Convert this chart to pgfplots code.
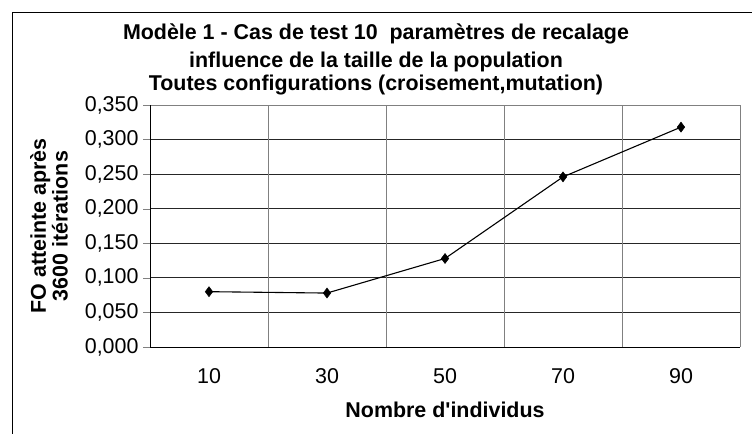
\documentclass[border=0pt]{standalone}
\usepackage{pgfplots}
\pgfplotsset{compat=1.18}
\usepackage{fontspec}
\setmainfont{Liberation Sans}
\begin{document}
\begin{tikzpicture}[x=1bp,y=1bp]
\useasboundingbox (0,0) rectangle (752,434);
\draw[black, line width=0.8bp] (12,0) -- (12,422) -- (752,422);
\node[font=\fontsize{21.5}{24}\selectfont\bfseries] at (376,400) {Modèle 1 - Cas de test 10\ \ paramètres de recalage};
\node[font=\fontsize{21.5}{24}\selectfont\bfseries] at (376,372) {influence de la taille de la population};
\node[font=\fontsize{21.5}{24}\selectfont\bfseries] at (376,348.5) {Toutes configurations (croisement,mutation)};
\node[font=\fontsize{21.5}{22}\selectfont\bfseries, rotate=90, align=center] at (49,208) {FO atteinte après\\3600 itérations};
\node[font=\fontsize{21.5}{24}\selectfont\bfseries] at (445,24) {Nombre d\textquotesingle individus};
\begin{axis}[
  at={(150bp,87bp)}, anchor=south west,
  scale only axis, width=590bp, height=242bp,
  xmin=-0.5, xmax=4.5, ymin=0, ymax=0.35,
  xtick={0,1,2,3,4}, xticklabels={10,30,50,70,90},
  major x tick style={draw=none},
  extra x ticks={-0.5,0.5,1.5,2.5,3.5,4.5},
  extra x tick labels={},
  extra x tick style={grid=major, major grid style={black!50, line width=0.7bp}, tick style={draw=black, line width=0.7bp}, major tick length=12bp},
  ytick={0,0.05,...,0.351},
  ymajorgrids, major grid style={black!85, line width=0.7bp},
  tick align=outside, major tick length=7bp,
  /pgf/number format/fixed, /pgf/number format/fixed zerofill,
  /pgf/number format/precision=3, /pgf/number format/use comma,
  /pgf/number format/assume math mode=true,
  tick label style={font=\fontsize{21.5}{24}\selectfont},
  yticklabel style={xshift=-1bp},
  xticklabel style={yshift=-11bp},
  axis line style={black!60, line width=0.7bp},
  axis x line*=bottom, axis y line*=left,
  clip=false,
]
\draw[black!50, line width=0.7bp] (axis cs:-0.5,0.35) -- (axis cs:4.5,0.35) -- (axis cs:4.5,0);
\draw[black, line width=0.8bp] (axis cs:-0.5,0) -- (axis cs:-0.5,0.35);
\draw[black, line width=0.8bp] (axis cs:-0.5,0) -- (axis cs:4.5,0);
\addplot[black, line width=1.1bp, mark=diamond*, mark size=5bp, mark options={line width=0.5bp}] coordinates {
(0,0.080) (1,0.078) (2,0.128) (3,0.246) (4,0.318)};
\end{axis}
\end{tikzpicture}
\end{document}
